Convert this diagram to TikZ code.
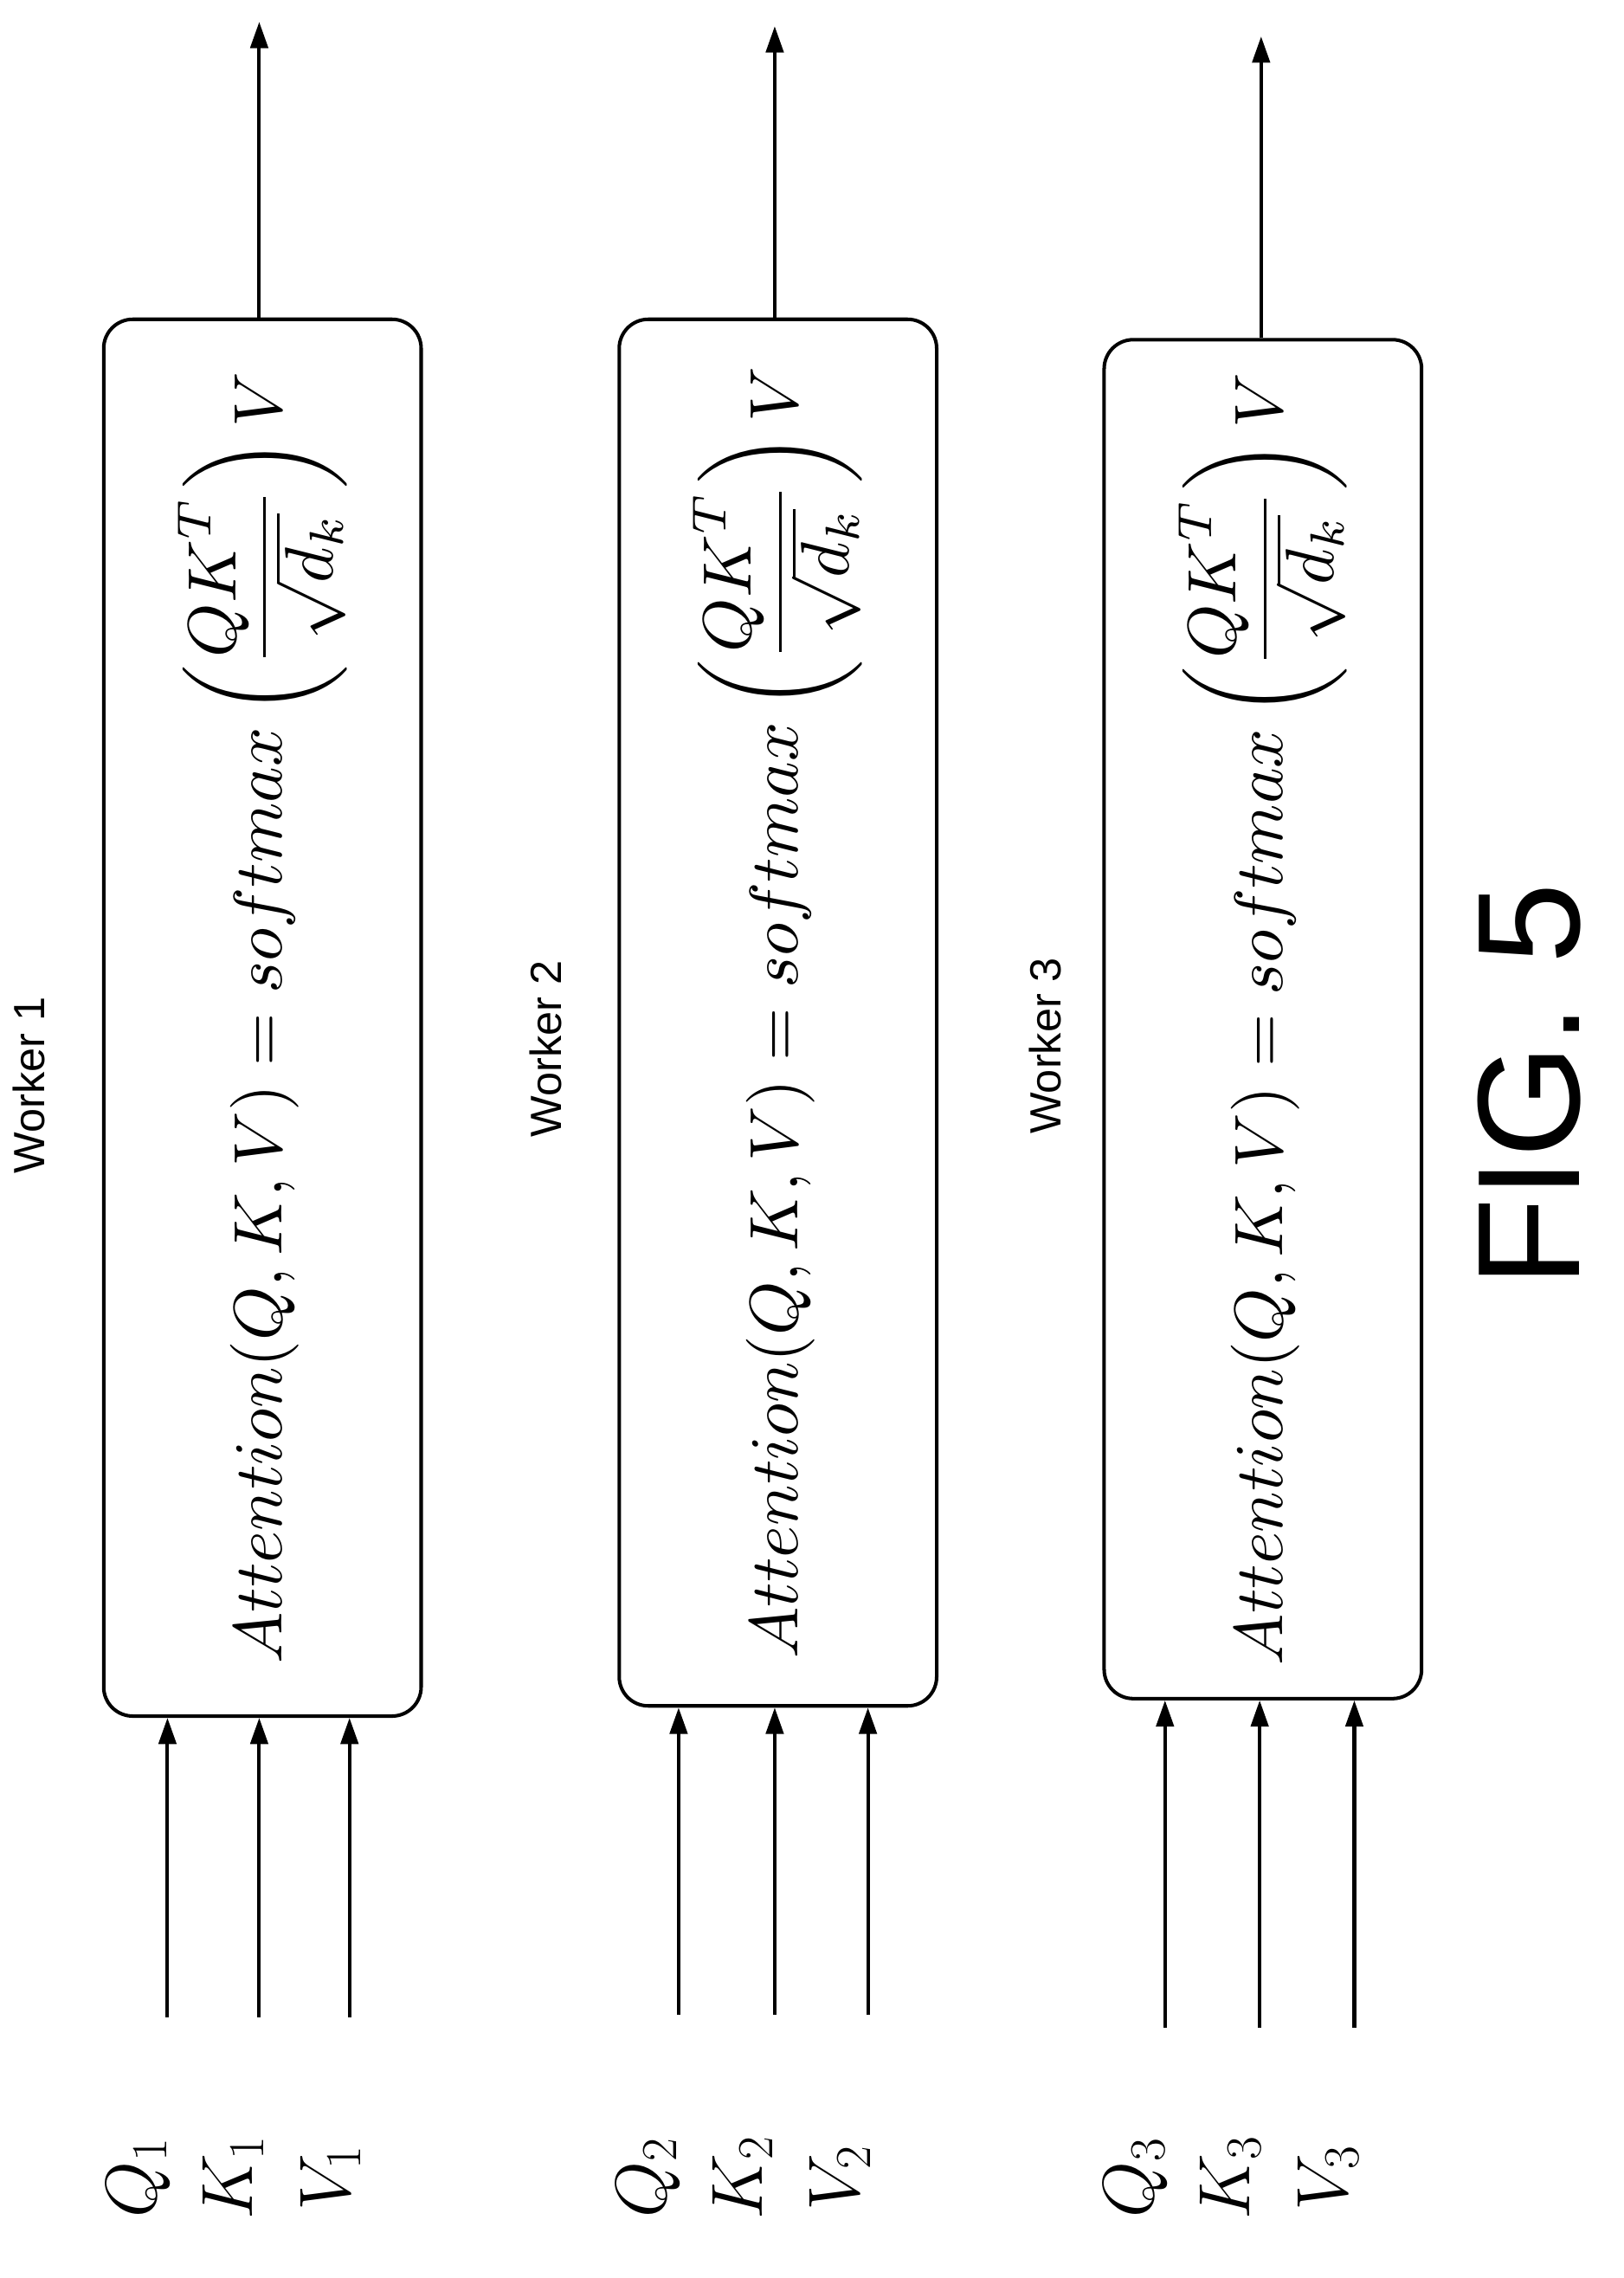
\documentclass[tikz,border=0pt]{standalone}
\usepackage{fontspec}
\setsansfont{Liberation Sans}
\usetikzlibrary{arrows.meta}
\begin{document}
\begin{tikzpicture}[x=0.5pt,y=-0.5pt,
  box/.style={draw,line width=1.2pt,rounded corners=10pt,minimum width=109pt,anchor=north west,inner sep=0pt},
  arr/.style={line width=1.2pt,-{Triangle[length=9pt,width=6pt]}},
  wlab/.style={font=\sffamily\fontsize{15}{18}\selectfont,rotate=90},
  qlab/.style={font=\fontsize{26}{30}\selectfont,rotate=90},
  form/.style={rotate=90,scale=2.35}]
\useasboundingbox (0,0) rectangle (1115,1564);
\foreach \i/\bx/\by/\bh/\ya/\yt/\ox/\xa/\xb/\xc/\wx/\wy/\lx in
 {1/70/218/959/1385/15/178/115/178/240/20/745/95,
  2/424/218/952/1383/18/532/466/532/596/375/720/445,
  3/757/232/933/1392/25/866/800/865/930/718/718/780}{
  \node[box,minimum height=\bh*0.5pt] (b\i) at (\bx,\by) {};
  \node[form] (f\i) at (b\i.center) {$\displaystyle Attention(Q,K,V)=softmax\left(\frac{QK^T}{\sqrt{d_k}}\right)V$};
  \coordinate (o\i) at (\ox,\yt);
  \draw[arr] (b\i.north -| o\i) -- (o\i);
  \foreach \x/\n in {\xa/q,\xb/k,\xc/v}{
    \coordinate (s\n\i) at (\x,\ya);
    \draw[arr] (s\n\i) -- (s\n\i |- b\i.south);
  }
  \node[wlab] (w\i) at (\wx,\wy) {Worker \i};
  \node[qlab] (q\i) at (\lx,1495) {$Q_{\i}$};
  \node[qlab] (k\i) at (\lx+65,1495) {$K_{\i}$};
  \node[qlab] (v\i) at (\lx+132,1495) {$V_{\i}$};
}
\node[font=\sffamily\fontsize{50}{58}\selectfont,rotate=90] (fig) at (1050,745) {FIG. 5};
\end{tikzpicture}
\end{document}
